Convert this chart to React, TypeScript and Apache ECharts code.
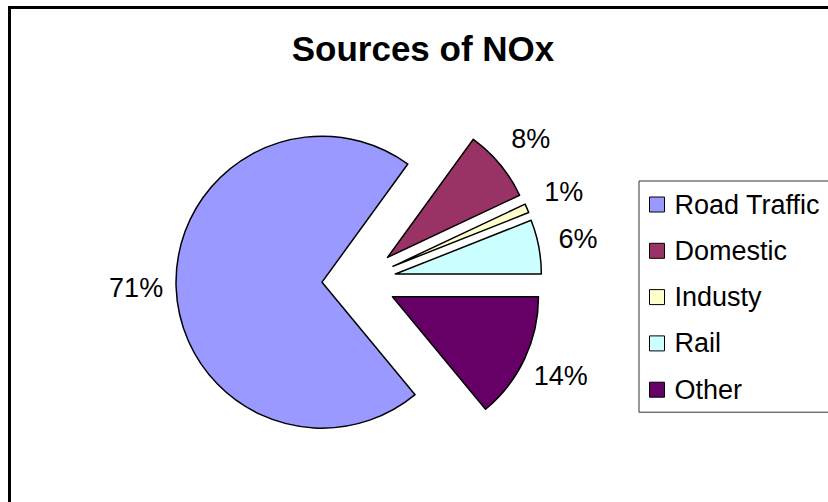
import React, { useEffect, useRef } from "react";
import * as echarts from "echarts";

const categories = ["Road Traffic", "Domestic", "Industy", "Rail", "Other"];
const values = [71, 8, 1, 6, 14];
const colors = ["#9999FF", "#993366", "#FFFFCC", "#CCFFFF", "#660066"];
const titleText = "Sources of NOx";

export default function App() {
  const ref = useRef<HTMLDivElement>(null);
  useEffect(() => {
    if (!ref.current) return;
    const chart = echarts.init(ref.current, undefined, { renderer: "svg" });
    const font = "'Liberation Sans', Arial, sans-serif";
    const common = {
      type: "pie",
      center: [359, 281],
      startAngle: -50.4,
      clockwise: true,
      selectedMode: "multiple",
      selectedOffset: 37,
      avoidLabelOverlap: false,
      emphasis: { disabled: true },
    };
    chart.setOption({
      animation: false,
      backgroundColor: "#ffffff",
      title: {
        text: titleText,
        left: 423,
        textAlign: "center",
        top: 31,
        padding: 0,
        textStyle: { fontFamily: font, fontSize: 35, fontWeight: "bold", color: "#000" },
      },
      legend: {
        orient: "vertical",
        left: 639,
        top: 181,
        icon: "rect",
        itemWidth: 15,
        itemHeight: 15,
        itemGap: 19.3,
        padding: [10, 10, 9, 10],
        borderColor: "#333",
        borderWidth: 1,
        data: categories,
        itemStyle: { borderColor: "#000", borderWidth: 1 },
        textStyle: { fontFamily: font, fontSize: 27, color: "#000", padding: [0, 0, 0, 5] },
        selectedMode: false,
      },
      graphic: [
        {
          type: "rect",
          shape: { x: 9.5, y: 7.5, width: 1000, height: 1000 },
          style: { fill: "none", stroke: "#000", lineWidth: 3 },
          silent: true,
        },
      ],
      series: [
        {
          ...common,
          name: "NOx",
          radius: 146,
          itemStyle: { borderColor: "#000", borderWidth: 1.5 },
          label: { show: false },
          labelLine: { show: false },
          data: categories.map((name, i) => ({
            name,
            value: values[i],
            selected: true,
            itemStyle: { color: colors[i] },
          })),
        },
        {
          ...common,
          name: "labels",
          radius: [146, 220],
          silent: true,
          itemStyle: { color: "rgba(0,0,0,0)", borderWidth: 0 },
          label: {
            show: true,
            position: "inside",
            formatter: "{c}%",
            fontFamily: font,
            fontSize: 27,
            color: "#000",
          },
          labelLine: { show: false },
          data: categories.map((name, i) => ({
            name,
            value: values[i],
            selected: true,
          })),
        },
      ],
    });
    return () => chart.dispose();
  }, []);
  return (
    <div
      ref={ref}
      style={{ position: "absolute", left: 0, top: 0, width: 828, height: 502, background: "#fff" }}
    />
  );
}
